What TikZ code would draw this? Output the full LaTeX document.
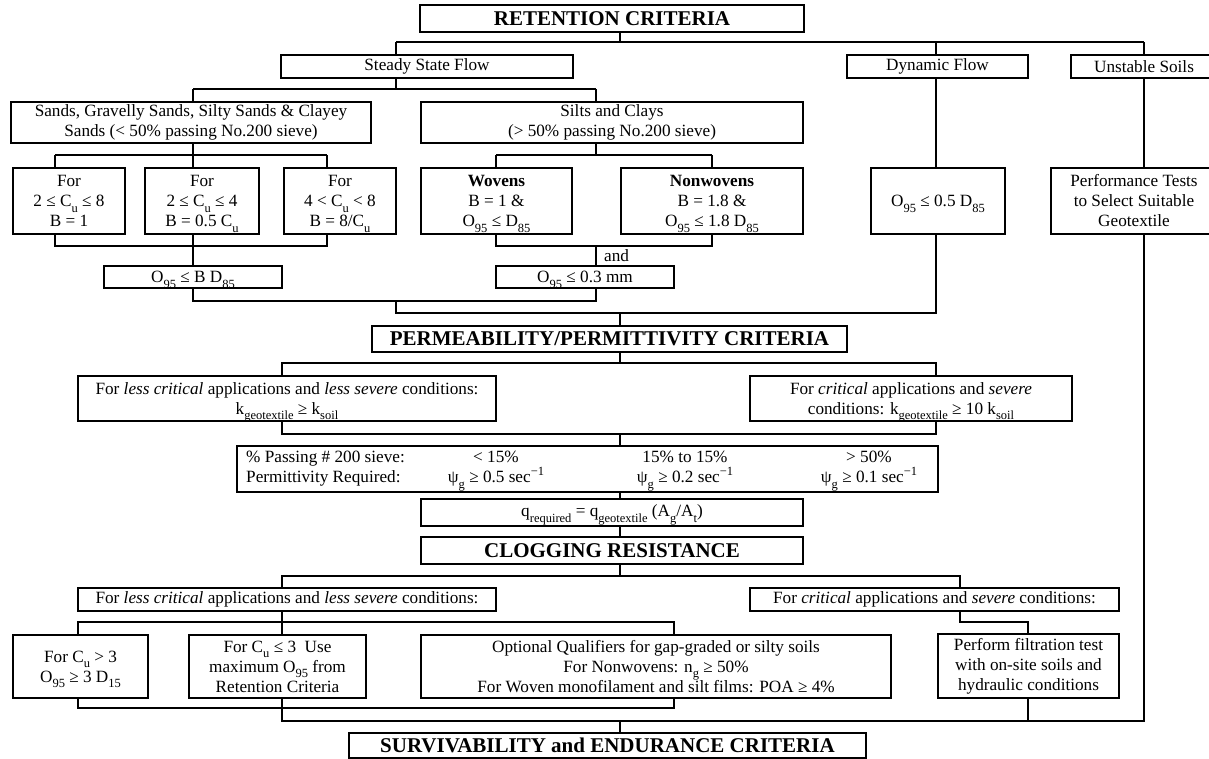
\documentclass[tikz,border=0pt]{standalone}
\usepackage{fontspec}
\setmainfont{Liberation Serif}
\usetikzlibrary{calc}
\newcommand\myfn{\fontsize{17.2}{20}\selectfont}
\newcommand\myhf{\fontsize{21}{25}\selectfont\bfseries}
\newcommand\sbs[1]{\raisebox{-0.32em}[0pt][0pt]{\fontsize{12.5}{12.5}\selectfont #1}}
\newcommand\sps[1]{\raisebox{0.42em}[0pt][0pt]{\fontsize{12.5}{12.5}\selectfont #1}}
\newcommand\bx[7][box]{\node[#1, minimum width={#4pt-#3pt}, minimum height={#6pt-#5pt}] (#2) at ({(#3+#4)/2},{(#5+#6)/2}) {#7};}
\begin{document}
\begin{tikzpicture}[x=1pt,y=-1pt,
  box/.style={draw, line width=1.1pt, inner sep=0pt, align=center, font=\myfn},
  hbox/.style={box, font=\myhf},
  lbl/.style={inner sep=0pt, font=\myfn},
  conn/.style={line width=1.1pt}]
\useasboundingbox (0,0) rectangle (1209,758);
% ---------- boxes ----------
\bx[hbox]{ret}{420}{804}{5}{32}{RETENTION CRITERIA}
\bx{steady}{281}{573}{55}{78}{Steady State Flow}
\bx{dyn}{847}{1028}{55}{78}{Dynamic Flow}
\bx{unst}{1071}{1217}{55}{78}{Unstable Soils}
\bx{sands}{11}{371}{102}{143}{Sands, Gravelly Sands, Silty Sands \& Clayey\\Sands (< 50\% passing No.200 sieve)}
\bx{silts}{421}{803}{102}{143}{Silts and Clays\\(> 50\% passing No.200 sieve)}
\bx{for1}{13}{125}{168}{234}{For\\2 ≤ C\sbs{u} ≤ 8\\B = 1}
\bx{for2}{145}{259}{168}{234}{For\\2 ≤ C\sbs{u} ≤ 4\\B = 0.5 C\sbs{u}}
\bx{for3}{284}{396}{168}{234}{For\\4 < C\sbs{u} < 8\\B = 8/C\sbs{u}}
\bx{wov}{421}{572}{168}{234}{\textbf{Wovens}\\B = 1 \&\\O\sbs{95} ≤ D\sbs{85}}
\bx{nonwov}{621}{803}{168}{234}{\textbf{Nonwovens}\\B = 1.8 \&\\O\sbs{95} ≤ 1.8 D\sbs{85}}
\bx{dynres}{871}{1005}{168}{234}{O\sbs{95} ≤ 0.5 D\sbs{85}}
\bx{perf}{1051}{1217}{168}{234}{Performance Tests\\to Select Suitable\\Geotextile}
\bx{obd}{104}{282}{266}{288}{O\sbs{95} ≤ B D\sbs{85}}
\bx{o03}{496}{674}{266}{288}{O\sbs{95} ≤ 0.3 mm}
\bx[hbox]{perm}{372}{847}{326}{352}{PERMEABILITY/PERMITTIVITY CRITERIA}
\bx{lesscrit}{78}{496}{376}{421}{For \textit{less critical} applications and \textit{less severe} conditions:\\k\sbs{geotextile} ≥ k\sbs{soil}}
\bx{crit}{750}{1072}{376}{421}{For \textit{critical} applications and \textit{severe}\\conditions: k\sbs{geotextile} ≥ 10 k\sbs{soil}}
\bx{tbl}{237}{938}{446}{492}{}
\bx{qbox}{421}{803}{499}{526}{q\sbs{required} = q\sbs{geotextile} (A\sbs{g}/A\sbs{t})}
\bx[hbox]{clog}{421}{803}{537}{564}{CLOGGING RESISTANCE}
\bx{lc2}{78}{496}{588}{611}{For \textit{less critical} applications and \textit{less severe} conditions:}
\bx{c2}{750}{1119}{588}{611}{For \textit{critical} applications and \textit{severe} conditions:}
\bx{cu3}{13}{148}{635}{698}{For C\sbs{u} > 3\\O\sbs{95} ≥ 3 D\sbs{15}}
\bx{cule3}{189}{366}{635}{698}{For C\sbs{u} ≤ 3~ Use\\maximum O\sbs{95} from\\Retention Criteria}
\bx{opt}{421}{891}{635}{698}{Optional Qualifiers for gap-graded or silty soils\\For Nonwovens: n\sbs{g} ≥ 50\%\\For Woven monofilament and silt films: POA ≥ 4\%}
\bx{perf2}{938}{1119}{634}{698}{Perform filtration test\\with on-site soils and\\hydraulic conditions}
\bx[hbox]{surv}{349}{866}{733}{758}{SURVIVABILITY and ENDURANCE CRITERIA}
% ---------- table texts ----------
\node[lbl, anchor=west, align=left] (tcol0) at (246,469) {\% Passing \# 200 sieve:\\Permittivity Required:};
\node[lbl, align=center] (tcol1) at (496,469) {< 15\%\\ψ\sbs{g} ≥ 0.5 sec\sps{−1}};
\node[lbl, align=center] (tcol2) at (685,469) {15\% to 15\%\\ψ\sbs{g} ≥ 0.2 sec\sps{−1}};
\node[lbl, align=center] (tcol3) at (869,469) {> 50\%\\ψ\sbs{g} ≥ 0.1 sec\sps{−1}};
% ---------- junction coordinates ----------
\coordinate (b1L) at (396,42); \coordinate (b1R) at (1144,42);
\coordinate (b1d) at (936,42); \coordinate (b1c) at (620,42);
\coordinate (b2L) at (193,89); \coordinate (b2R) at (596,89); \coordinate (b2c) at (396,89);
\coordinate (b3L) at (55,155); \coordinate (b3R) at (327,155); \coordinate (b3c) at (193,155);
\coordinate (b4L) at (496,155); \coordinate (b4R) at (712,155); \coordinate (b4c) at (596,155);
\coordinate (b5L) at (55,246); \coordinate (b5R) at (327,246); \coordinate (b5c) at (193,246);
\coordinate (b6L) at (496,246); \coordinate (b6R) at (712,246); \coordinate (b6c) at (596,246);
\coordinate (b7L) at (193,301); \coordinate (b7R) at (596,301); \coordinate (b7c) at (396,301);
\coordinate (b8L) at (396,313); \coordinate (b8R) at (936,313); \coordinate (b8c) at (620,313);
\coordinate (b9L) at (282,363); \coordinate (b9R) at (936,363); \coordinate (b9c) at (620,363);
\coordinate (b10L) at (282,434); \coordinate (b10R) at (936,434); \coordinate (b10c) at (620,434);
\coordinate (b11L) at (282,576); \coordinate (b11R) at (960,576); \coordinate (b11c) at (620,576);
\coordinate (b12L) at (78,622); \coordinate (b12R) at (674,622); \coordinate (b12c) at (282,622);
\coordinate (b13L) at (960,622); \coordinate (b13R) at (1028,622);
\coordinate (b14L) at (78,708); \coordinate (b14R) at (674,708);
\coordinate (b15L) at (282,721); \coordinate (b15R) at (1144,721);
\coordinate (b15c) at (620,721); \coordinate (b15p) at (1028,721);
\node[lbl, anchor=west] (andl) at (604,256) {and};
% ---------- connectors ----------
\begin{scope}[conn]
\draw (ret.south -| b1c) -- (b1c);
\draw (b1L) -- (b1R);
\draw (b1L) -- (b1L |- steady.north);
\draw (b1d) -- (b1d |- dyn.north);
\draw (b1R) -- (b1R |- unst.north);
\draw (steady.south -| b2c) -- (b2c);
\draw (b2L) -- (b2R);
\draw (b2L) -- (b2L |- sands.north);
\draw (b2R) -- (b2R |- silts.north);
\draw (sands.south -| b3c) -- (b3c);
\draw (b3L) -- (b3R);
\draw (b3L) -- (b3L |- for1.north);
\draw (b3c) -- (b3c |- for2.north);
\draw (b3R) -- (b3R |- for3.north);
\draw (silts.south -| b4c) -- (b4c);
\draw (b4L) -- (b4R);
\draw (b4L) -- (b4L |- wov.north);
\draw (b4R) -- (b4R |- nonwov.north);
\draw (dyn.south -| b1d) -- (dynres.north -| b1d);
\draw (unst.south -| b1R) -- (perf.north -| b1R);
\draw (for1.south -| b5L) -- (b5L) -- (b5R) -- (for3.south -| b5R);
\draw (for2.south -| b5c) -- (obd.north -| b5c);
\draw (wov.south -| b6L) -- (b6L) -- (b6R) -- (nonwov.south -| b6R);
\draw (b6c) -- (o03.north -| b6c);
\draw (obd.south -| b7L) -- (b7L) -- (b7R) -- (o03.south -| b7R);
\draw (b7c) -- (b8L) -- (b8R) -- (dynres.south -| b8R);
\draw (b8c) -- (perm.north -| b8c);
\draw (perm.south -| b9c) -- (b9c);
\draw (lesscrit.north -| b9L) -- (b9L) -- (b9R) -- (crit.north -| b9R);
\draw (lesscrit.south -| b10L) -- (b10L) -- (b10R) -- (crit.south -| b10R);
\draw (b10c) -- (tbl.north -| b10c);
\draw (tbl.south -| b10c) -- (qbox.north -| b10c);
\draw (qbox.south -| b10c) -- (clog.north -| b10c);
\draw (clog.south -| b11c) -- (b11c);
\draw (lc2.north -| b11L) -- (b11L) -- (b11R) -- (c2.north -| b11R);
\draw (lc2.south -| b12c) -- (b12c);
\draw (cu3.north -| b12L) -- (b12L) -- (b12R) -- (opt.north -| b12R);
\draw (b12c) -- (cule3.north -| b12c);
\draw (c2.south -| b13L) -- (b13L) -- (b13R) -- (perf2.north -| b13R);
\draw (cu3.south -| b14L) -- (b14L) -- (b14R) -- (opt.south -| b14R);
\draw (cule3.south -| b15L) -- (b15L) -- (b15R) -- (perf.south -| b15R);
\draw (perf2.south -| b15p) -- (b15p);
\draw (b15c) -- (surv.north -| b15c);
\end{scope}
\end{tikzpicture}
\end{document}
